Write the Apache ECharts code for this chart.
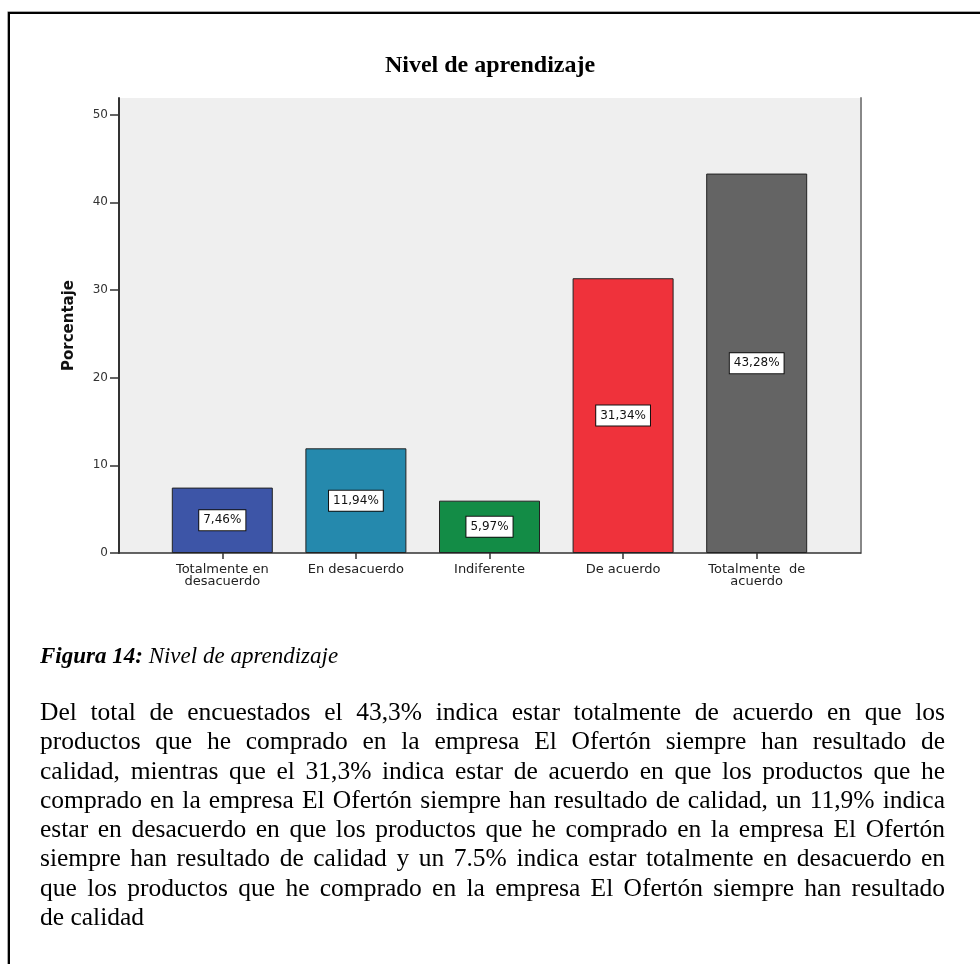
<!DOCTYPE html>
<html>
<head>
<meta charset="utf-8">
<script src="https://cdn.jsdelivr.net/npm/echarts@6/dist/echarts.min.js"></script>
<style>
  html, body { margin:0; padding:0; background:#fff; }
  #wrap { position:relative; width:980px; height:964px; overflow:hidden; }
  #chart { position:absolute; left:0; top:0; width:980px; height:964px; }
  #frame { position:absolute; left:8px; top:12px; width:990px; height:990px; border-top:2px solid #000; border-left:2px solid #000; box-shadow:-0.5px -0.5px 0 #555; pointer-events:none; }
  #caption { position:absolute; left:40px; top:641px; font-family:'Liberation Serif', serif; font-size:23px; line-height:29px; font-style:italic; color:#000; white-space:nowrap; }
  #para { position:absolute; left:40px; top:697px; width:905px; font-family:'Liberation Serif', serif; font-size:25.5px; line-height:29.3px; color:#000; }
  #para .ln { text-align:justify; text-align-last:justify; white-space:nowrap; }
  #para .ln.last { text-align-last:left; }
</style>
</head>
<body>
<div id="wrap">
  <div id="chart"></div>
  <div id="frame"></div>
  <div id="caption"></div>
  <div id="para"></div>
</div>
<script>
// ---- data ----
const chartTitle = 'Nivel de aprendizaje';
const yAxisName = 'Porcentaje';
const categories = ['Totalmente en\ndesacuerdo', 'En desacuerdo', 'Indiferente', 'De acuerdo', 'Totalmente  de\nacuerdo'];
const percentages = [7.46, 11.94, 5.97, 31.34, 43.28];
const yTicks = [0, 10, 20, 30, 40, 50];
const captionBold = 'Figura 14:';
const captionText = ' Nivel de aprendizaje';
const paragraphLines = [
  'Del total de encuestados el 43,3% indica estar totalmente de acuerdo en que los',
  'productos que he comprado en la empresa El Ofertón siempre han resultado de',
  'calidad, mientras que el 31,3% indica estar de acuerdo en que los productos que he',
  'comprado en la empresa El Ofertón siempre han resultado de calidad, un 11,9% indica',
  'estar en desacuerdo en que los productos que he comprado en la empresa El Ofertón',
  'siempre han resultado de calidad y un 7.5% indica estar totalmente en desacuerdo en',
  'que los productos que he comprado en la empresa El Ofertón siempre han resultado',
  'de calidad'
];

// ---- styles ----
const barColors = ['#3d55a7', '#2589ad', '#138c46', '#ef323b', '#646464'];
const yMax = 51.9;

// text blocks
const cap = document.getElementById('caption');
const b = document.createElement('b'); b.textContent = captionBold; cap.appendChild(b);
cap.appendChild(document.createTextNode(captionText));
const para = document.getElementById('para');
paragraphLines.forEach((t, i) => {
  const d = document.createElement('div');
  d.className = 'ln' + (i === paragraphLines.length - 1 ? ' last' : '');
  d.textContent = t;
  para.appendChild(d);
});

const chart = echarts.init(document.getElementById('chart'), null, { renderer: 'canvas' });
chart.setOption({
  backgroundColor: '#fff',
  animation: false,
  title: {
    text: chartTitle, left: 'center', top: 49,
    textStyle: { fontFamily: 'Liberation Serif', fontWeight: 'bold', fontSize: 24, color: '#000' }
  },
  grid: [
    { left: 119, right: 119.5, top: 98, bottom: 411, show: true, backgroundColor: '#efefef', borderWidth: 0 },
    { left: 155.5, right: 156.5, top: 98, bottom: 411 }
  ],
  xAxis: [
    { gridIndex: 0, type: 'value', min: 0, max: 1,
      axisLine: { show: true, lineStyle: { color: '#333', width: 1.5 } },
      axisTick: { show: false }, axisLabel: { show: false }, splitLine: { show: false } },
    { gridIndex: 1, type: 'category', data: categories,
      axisLine: { show: false },
      axisTick: { show: true, alignWithLabel: true, length: 6, lineStyle: { color: '#333', width: 1.5 } },
      axisLabel: { interval: 0, fontFamily: 'DejaVu Sans', fontSize: 13, color: '#222', lineHeight: 12, margin: 11 } }
  ],
  yAxis: [
    { gridIndex: 0, type: 'value', min: 0, max: yMax,
      name: yAxisName, nameLocation: 'middle', nameGap: 42,
      nameTextStyle: { fontFamily: 'DejaVu Sans', fontWeight: 'bold', fontSize: 15, color: '#111' },
      axisLine: { show: true, lineStyle: { color: '#333', width: 2 } },
      axisTick: { show: true, length: 9, customValues: yTicks, lineStyle: { color: '#333', width: 1.5 } },
      axisLabel: { customValues: yTicks, fontFamily: 'DejaVu Sans', fontSize: 12, color: '#333', margin: 11 },
      splitLine: { show: false } },
    { gridIndex: 0, type: 'value', position: 'right', min: 0, max: yMax,
      axisLine: { show: true, lineStyle: { color: '#888', width: 2 } },
      axisTick: { show: false }, axisLabel: { show: false }, splitLine: { show: false } },
    { gridIndex: 1, type: 'value', min: 0, max: yMax, show: false }
  ],
  series: [{
    type: 'bar', xAxisIndex: 1, yAxisIndex: 2, barWidth: 101,
    data: percentages.map((v, i) => ({ value: v, itemStyle: { color: barColors[i] } })),
    itemStyle: { borderColor: '#222', borderWidth: 1 },
    label: {
      show: true, position: 'inside',
      formatter: p => p.value.toFixed(2).replace('.', ',') + '%',
      backgroundColor: '#fff', borderColor: '#111', borderWidth: 1, padding: [3, 4],
      fontFamily: 'DejaVu Sans', fontSize: 12, color: '#111', lineHeight: 14
    }
  }]
});
</script>
</body>
</html>
